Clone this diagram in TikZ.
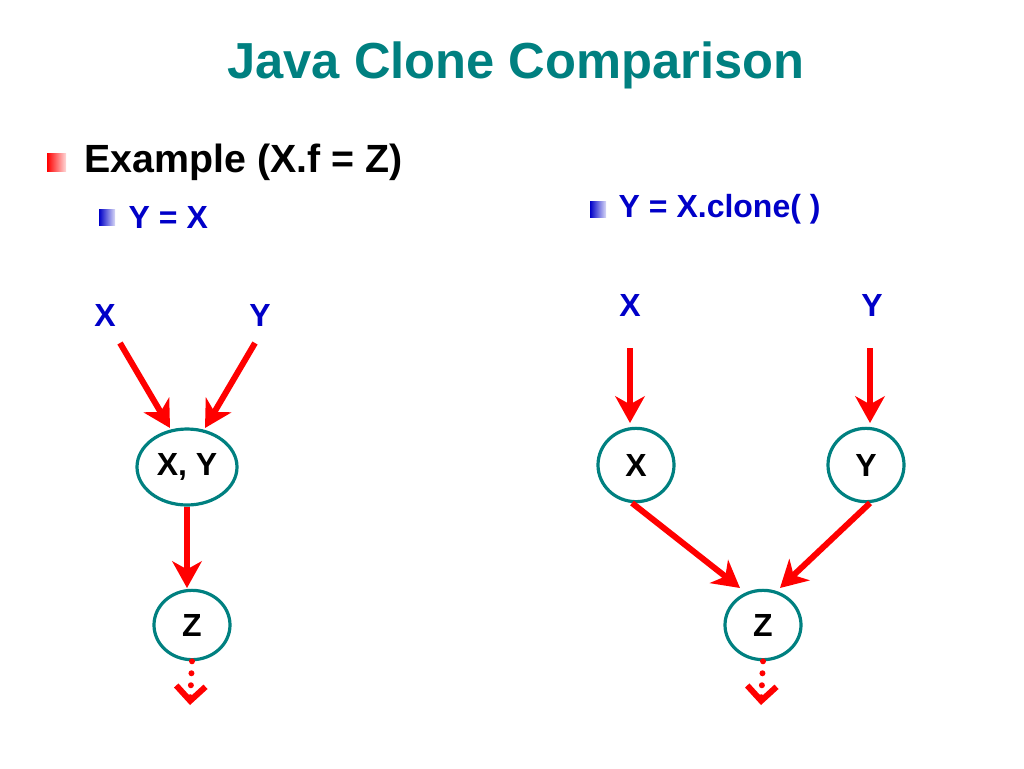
\documentclass[tikz,border=0pt]{standalone}
\usepackage{fontspec}
\setmainfont{Liberation Sans}
\usetikzlibrary{arrows.meta,shapes.geometric}
\definecolor{teal1}{RGB}{0,128,128}
\definecolor{navy1}{RGB}{0,0,200}
\definecolor{red1}{RGB}{255,0,0}
\begin{document}
\begin{tikzpicture}[x=0.75pt,y=-0.75pt,
  ov/.style={draw=teal1,line width=2.4pt,ellipse,inner sep=0pt,font=\fontsize{24}{26}\selectfont\bfseries},
  lab/.style={text=navy1,font=\fontsize{24}{26}\selectfont\bfseries},
  arr/.style={draw=red1,line width=4.5pt,-{Stealth[length=20pt,width=22pt,inset=6pt]}},
  darr/.style={draw=red1,line width=4.5pt,dash pattern=on 0pt off 9pt,line cap=round,-{Straight Barb[length=11pt,width=22pt,line width=4.5pt]}}]
\useasboundingbox (0,0) rectangle (1024,768);
\node[text=teal1,font=\fontsize{38}{40}\selectfont\bfseries] (title) at (516,65) {Java Clone Comparison};
\shade[left color=red1,right color=red1!15] (47,153) rectangle (66,171);
\node[anchor=west,font=\fontsize{29.5}{32}\selectfont\bfseries] (ex) at (80,162) {Example (X.f = Z)};
\shade[left color=navy1,right color=navy1!15] (99,209) rectangle (115,225);
\node[anchor=west,lab] (yx) at (124,217) {Y = X};
\shade[left color=navy1,right color=navy1!15] (590,201) rectangle (606,217);
\node[anchor=west,lab] (yc) at (614,209) {Y = X.clone( )};
% left
\node[lab] (lx) at (105,315) {X};
\node[lab] (ly) at (260,315) {Y};
\node[ov,minimum width=75pt,minimum height=57pt] (xy) at (187,467) {X, Y};
\node[ov,minimum width=57pt,minimum height=52pt] (lz) at (192,625) {Z};
\coordinate (le) at (190,705);
\draw[arr] (120,343) -- (170,428);
\draw[arr] (255,343) -- (205,428);
\draw[arr] (xy.south) -- (187,588);
\draw[darr] (lz.south) -- (le);
% right
\node[lab] (rx) at (630,305) {X};
\node[lab] (ry) at (872,305) {Y};
\node[ov,minimum width=57pt,minimum height=55pt] (ox) at (636,465) {X};
\node[ov,minimum width=57pt,minimum height=55pt] (oy) at (866,465) {Y};
\node[ov,minimum width=57pt,minimum height=52pt] (rz) at (763,625) {Z};
\coordinate (re) at (761,705);
\draw[arr] (630,348) -- (630,423);
\draw[arr] (870,348) -- (870,423);
\draw[arr] (632,503) -- (740,588);
\draw[arr] (870,503) -- (780,588);
\draw[darr] (rz.south) -- (re);
\end{tikzpicture}
\end{document}
